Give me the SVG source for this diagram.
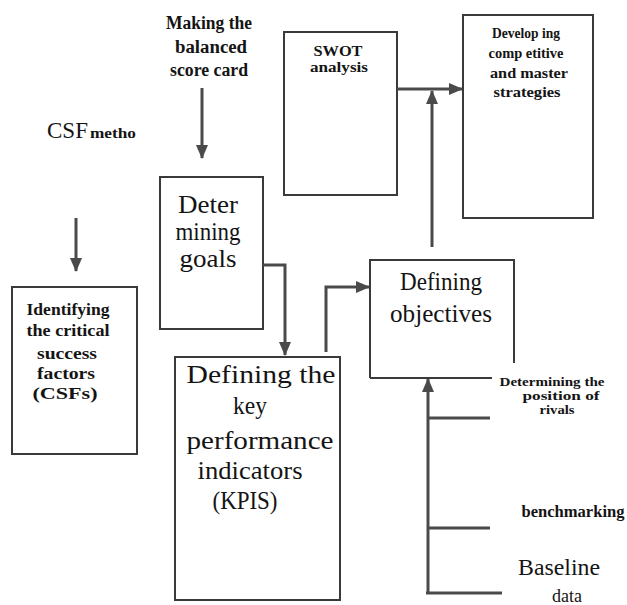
<svg xmlns="http://www.w3.org/2000/svg" width="627" height="605" viewBox="0 0 627 605">
<defs>
<style>
.box{fill:none;stroke:#3a3a3a;stroke-width:2}
.ln{fill:none;stroke:#4a4a4a;stroke-width:3}
.t{font-family:"Liberation Serif","Times New Roman",serif;fill:#141414;text-anchor:middle}
.b{font-weight:bold}
</style>
<marker id="ah" markerUnits="userSpaceOnUse" markerWidth="14" markerHeight="12" viewBox="0 0 14 12" refX="13" refY="6" orient="auto">
<path d="M0,0 L14,6 L0,12 Z" fill="#4a4a4a"/>
</marker>
</defs>
<rect width="627" height="605" fill="#ffffff"/>

<g id="making">
<text class="t b" font-size="18" x="209" y="29" textLength="86" lengthAdjust="spacingAndGlyphs">Making the</text>
<text class="t b" font-size="18" x="211" y="53" textLength="72" lengthAdjust="spacingAndGlyphs">balanced</text>
<text class="t b" font-size="18" x="209" y="76" textLength="78" lengthAdjust="spacingAndGlyphs">score card</text>
</g>

<g id="csf">
<text font-family="Liberation Serif, serif" fill="#141414" x="47" y="138"><tspan font-size="23">CSF</tspan><tspan font-size="15" font-weight="bold" dx="2" textLength="46" lengthAdjust="spacingAndGlyphs">metho</tspan></text>
</g>

<g id="swot">
<rect class="box" x="284" y="32" width="113" height="163"/>
<text class="t b" font-size="15" x="338" y="56" textLength="49" lengthAdjust="spacingAndGlyphs">SWOT</text>
<text class="t b" font-size="15" x="339" y="72" textLength="58" lengthAdjust="spacingAndGlyphs">analysis</text>
</g>

<g id="developing">
<rect class="box" x="463" y="15" width="130" height="203"/>
<text class="t b" font-size="15" x="526" y="38" textLength="68" lengthAdjust="spacingAndGlyphs">Develop ing</text>
<text class="t b" font-size="15" x="526" y="58" textLength="75" lengthAdjust="spacingAndGlyphs">comp etitive</text>
<text class="t b" font-size="15" x="529" y="78" textLength="78" lengthAdjust="spacingAndGlyphs">and master</text>
<text class="t b" font-size="15" x="527" y="97" textLength="67" lengthAdjust="spacingAndGlyphs">strategies</text>
</g>

<g id="deter">
<rect class="box" x="160" y="177" width="103" height="152"/>
<text class="t" font-size="26" x="208" y="213" textLength="60" lengthAdjust="spacingAndGlyphs">Deter</text>
<text class="t" font-size="26" x="208" y="240" textLength="65" lengthAdjust="spacingAndGlyphs">mining</text>
<text class="t" font-size="26" x="208" y="267" textLength="57" lengthAdjust="spacingAndGlyphs">goals</text>
</g>

<g id="identifying">
<rect class="box" x="12" y="287" width="125" height="167"/>
<text class="t b" font-size="17" x="68" y="315" textLength="83" lengthAdjust="spacingAndGlyphs">Identifying</text>
<text class="t b" font-size="17" x="68" y="336" textLength="83" lengthAdjust="spacingAndGlyphs">the critical</text>
<text class="t b" font-size="17" x="67" y="359" textLength="60" lengthAdjust="spacingAndGlyphs">success</text>
<text class="t b" font-size="17" x="66" y="379" textLength="58" lengthAdjust="spacingAndGlyphs">factors</text>
<text class="t b" font-size="17" x="65" y="399" textLength="65" lengthAdjust="spacingAndGlyphs">(CSFs)</text>
</g>

<g id="kpis">
<rect class="box" x="175" y="357" width="165" height="243"/>
<text class="t" font-size="25" x="261" y="383" textLength="149" lengthAdjust="spacingAndGlyphs">Defining the</text>
<text class="t" font-size="25" x="250" y="414" textLength="34" lengthAdjust="spacingAndGlyphs">key</text>
<text class="t" font-size="25" x="260" y="449" textLength="147" lengthAdjust="spacingAndGlyphs">performance</text>
<text class="t" font-size="25" x="250" y="479" textLength="105" lengthAdjust="spacingAndGlyphs">indicators</text>
<text class="t" font-size="25" x="245" y="509" textLength="65" lengthAdjust="spacingAndGlyphs">(KPIS)</text>
</g>

<g id="objectives">
<path class="box" d="M370,378 L370,260 L514,260 L514,363 M370,378 L492,378"/>
<text class="t" font-size="25" x="441" y="290" textLength="82" lengthAdjust="spacingAndGlyphs">Defining</text>
<text class="t" font-size="25" x="441" y="322" textLength="102" lengthAdjust="spacingAndGlyphs">objectives</text>
</g>

<g id="rivals">
<text class="t b" font-size="12" x="552" y="386" textLength="105" lengthAdjust="spacingAndGlyphs">Determining the</text>
<text class="t b" font-size="12" x="561" y="400" textLength="77" lengthAdjust="spacingAndGlyphs">position of</text>
<text class="t b" font-size="12" x="557" y="414" textLength="35" lengthAdjust="spacingAndGlyphs">rivals</text>
</g>

<g id="benchmarking">
<text class="t b" font-size="16" x="573" y="517" textLength="103" lengthAdjust="spacingAndGlyphs">benchmarking</text>
</g>

<g id="baseline">
<text class="t" font-size="24" x="559" y="575" textLength="82" lengthAdjust="spacingAndGlyphs">Baseline</text>
<text class="t" font-size="18" x="567" y="602">data</text>
</g>

<g id="connectors">
<line class="ln" x1="202" y1="88" x2="202" y2="158" marker-end="url(#ah)"/>
<line class="ln" x1="76" y1="218" x2="76" y2="271" marker-end="url(#ah)"/>
<polyline class="ln" points="263,265 285,265 285,355" marker-end="url(#ah)"/>
<polyline class="ln" points="326,352 326,287 369,287" marker-end="url(#ah)"/>
<line class="ln" x1="432" y1="247" x2="432" y2="91" marker-end="url(#ah)"/>
<line class="ln" x1="397" y1="89" x2="462" y2="89" marker-end="url(#ah)"/>
<line class="ln" x1="428" y1="594" x2="428" y2="379" marker-end="url(#ah)"/>
<line class="ln" x1="428" y1="418" x2="490" y2="418"/>
<line class="ln" x1="428" y1="528" x2="490" y2="528"/>
<line class="ln" x1="426" y1="593" x2="502" y2="593"/>
</g>
</svg>
